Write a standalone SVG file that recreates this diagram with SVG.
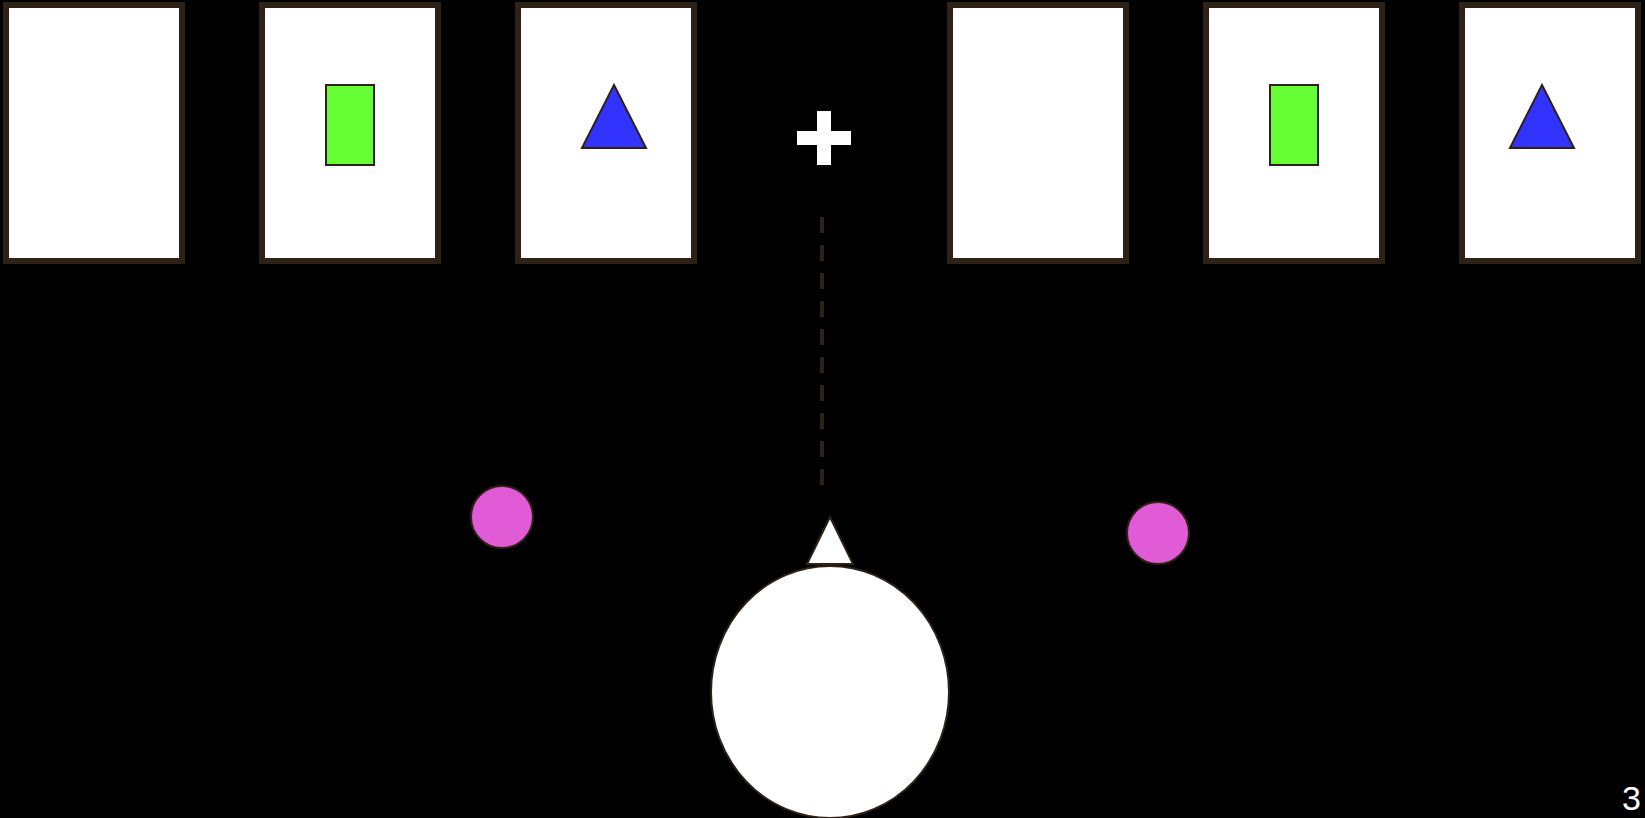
<svg xmlns="http://www.w3.org/2000/svg" width="1645" height="818" viewBox="0 0 1645 818">
<style>
.card{fill:#ffffff;stroke:#2e2116;stroke-width:6}
.green{fill:#66ff33;stroke:#2e2116;stroke-width:2}
.blue{fill:#3333ff;stroke:#2e2116;stroke-width:2;stroke-linejoin:miter}
.pink{fill:#e15bd6;stroke:#2e2116;stroke-width:2}
.white{fill:#ffffff;stroke:#2e2116;stroke-width:2}
.cross{fill:#ffffff}
</style>
<rect x="0" y="0" width="1645" height="818" fill="#000000"/>
<g id="card1"><rect class="card" x="6" y="5" width="176" height="256"/></g>
<g id="card2"><rect class="card" x="262" y="5" width="176" height="256"/><rect class="green" x="326" y="85" width="48" height="80"/></g>
<g id="card3"><rect class="card" x="518" y="5" width="176" height="256"/><polygon class="blue" points="614,85 582,148 646,148"/></g>
<g id="card4"><rect class="card" x="950" y="5" width="176" height="256"/></g>
<g id="card5"><rect class="card" x="1206" y="5" width="176" height="256"/><rect class="green" x="1270" y="85" width="48" height="80"/></g>
<g id="card6"><rect class="card" x="1462" y="5" width="176" height="256"/><polygon class="blue" points="1542,85 1510,148 1574,148"/></g>
<g id="fixation"><rect class="cross" x="797" y="131" width="54" height="14"/><rect class="cross" x="817" y="111" width="14" height="54"/></g>
<g id="connectors"><line x1="822" y1="217" x2="822" y2="485" stroke="#2e2116" stroke-width="4" stroke-dasharray="16 12"/></g>
<g id="pinkLeft"><circle class="pink" cx="502" cy="517" r="31"/></g>
<g id="pinkRight"><circle class="pink" cx="1158" cy="533" r="31"/></g>
<g id="agent">
<ellipse class="white" cx="830" cy="692" rx="119" ry="126" stroke-width="1.5"/>
<polygon class="white" points="830,517 807,564 853,564"/>
</g>
<g id="pageNumber"><text x="1622" y="810" font-family="Liberation Sans, Arial, sans-serif" font-size="34" fill="#ffffff">3</text></g>
</svg>
